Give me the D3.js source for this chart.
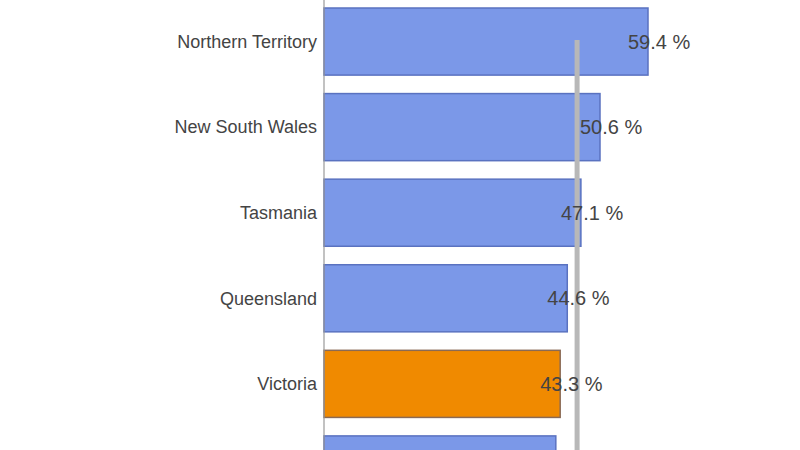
<!DOCTYPE html>
<html><head><meta charset="utf-8">
<script src="https://cdn.jsdelivr.net/npm/d3@7"></script>
<style>body{margin:0;background:#fff}</style></head>
<body><svg id="c" width="800" height="450"></svg>
<script>
const categories = ["Northern Territory","New South Wales","Tasmania","Queensland","Victoria","South Australia"];
const values = [59.4, 50.6, 47.1, 44.6, 43.3, 42.5];
const highlight = ["Victoria"];
const average = 46.4;

const svg = d3.select("#c");
const x = d3.scaleLinear().domain([0, 59.4]).range([324, 648]);
const y = d3.scaleBand().domain(categories).range([8, 503]).paddingInner(0.216).paddingOuter(0);
const visible = d => y(d) + y.bandwidth()/2 < 440;

svg.selectAll("rect.bar").data(categories).enter().append("rect")
  .attr("x", x(0)).attr("y", d => y(d))
  .attr("width", (d,i) => x(values[i]) - x(0)).attr("height", y.bandwidth())
  .attr("fill", d => highlight.includes(d) ? "#f08a00" : "#7b98e8")
  .attr("stroke", d => highlight.includes(d) ? "#8a6a55" : "#5a72c0")
  .attr("stroke-width", 1.5);

svg.append("line").attr("x1", x(0)).attr("x2", x(0)).attr("y1", 0).attr("y2", 450)
  .attr("stroke", "#999").attr("stroke-width", 1.2);

svg.append("line").attr("x1", x(average)).attr("x2", x(average)).attr("y1", 40).attr("y2", 450)
  .attr("stroke", "#b8b8b8").attr("stroke-width", 5);

svg.selectAll("text.cat").data(categories.filter(visible)).enter().append("text")
  .attr("x", 317).attr("y", d => y(d) + y.bandwidth()/2).attr("dy", "0.35em")
  .attr("text-anchor", "end").attr("font-family", "'Liberation Sans', Arial, sans-serif").attr("font-size", 18)
  .attr("fill", "#444").text(d => d);

svg.selectAll("text.val").data(categories.filter(visible)).enter().append("text")
  .attr("x", d => x(values[categories.indexOf(d)]) - 20).attr("y", d => y(d) + y.bandwidth()/2).attr("dy", "0.35em")
  .attr("font-family", "'Liberation Sans', Arial, sans-serif").attr("font-size", 20)
  .attr("fill", "#444").text(d => values[categories.indexOf(d)].toFixed(1) + " %");
</script></body></html>
